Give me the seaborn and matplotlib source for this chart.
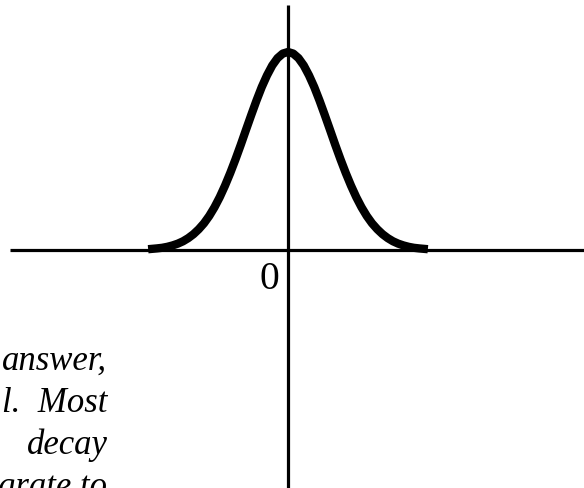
import matplotlib
matplotlib.use("Agg")
import matplotlib.pyplot as plt
import seaborn as sns
import pandas as pd

# Bell curve samples (x in units of the spread, y relative to the peak)
curve_x = [-3.33, -3.125, -3.0, -2.875, -2.75, -2.625, -2.5, -2.375, -2.25,
           -2.125, -2.0, -1.875, -1.75, -1.625, -1.5, -1.375, -1.25, -1.125,
           -1.0, -0.875, -0.75, -0.625, -0.5, -0.375, -0.25, -0.125, 0.0,
           0.125, 0.25, 0.375, 0.5, 0.625, 0.75, 0.875, 1.0, 1.125, 1.25,
           1.375, 1.5, 1.625, 1.75, 1.875, 2.0, 2.125, 2.25, 2.375, 2.5,
           2.625, 2.75, 2.875, 3.0, 3.125, 3.33]
curve_y = [0.004, 0.008, 0.011, 0.016, 0.023, 0.032, 0.044, 0.060, 0.080,
           0.105, 0.135, 0.172, 0.216, 0.267, 0.325, 0.389, 0.458, 0.531,
           0.607, 0.682, 0.755, 0.823, 0.882, 0.932, 0.969, 0.992, 1.000,
           0.992, 0.969, 0.932, 0.882, 0.823, 0.755, 0.682, 0.607, 0.531, 0.458,
           0.389, 0.325, 0.267, 0.216, 0.172, 0.135, 0.105, 0.080, 0.060, 0.044,
           0.032, 0.023, 0.016, 0.011, 0.008, 0.004]

origin_label = "0"
text_lines = ["answer,", "l.  Most", "decay", "grate to"]

sns.set_style("white")
plt.rcParams["font.family"] = ["Liberation Serif", "DejaVu Serif"]
plt.rcParams["text.color"] = "black"

W, H = 584, 489
fig = plt.figure(figsize=(W / 100, H / 100), dpi=100)
ax = fig.add_axes([0, 0, 1, 1])

# pixel geometry of the sketch
x_unit = 42.0      # px per x unit
y_unit = 198.0     # px per y unit
x0_px, y0_px = 288.0, 251.0

# coordinate axes
ax.plot([(10 - x0_px) / x_unit, (W - x0_px) / x_unit], [0, 0],
        color="black", lw=2.3, solid_capstyle="butt", zorder=1)
ax.plot([0, 0], [-(H - y0_px) / y_unit, (y0_px - 6) / y_unit],
        color="black", lw=2.3, solid_capstyle="butt", zorder=1)

df = pd.DataFrame({"x": curve_x, "y": curve_y})
sns.lineplot(data=df, x="x", y="y", ax=ax, color="black", lw=6.0,
             sort=False, zorder=2)
for ln in ax.lines[2:]:
    ln.set_solid_capstyle("butt")
    ln.set_solid_joinstyle("round")

ax.set_xlim(-x0_px / x_unit, (W - x0_px) / x_unit)
ax.set_ylim(-(H - y0_px) / y_unit, y0_px / y_unit)
ax.set_xlabel("")
ax.set_ylabel("")
ax.set_axis_off()

fig.text(269.5 / W, 1 - 289 / H, origin_label, fontsize=28.5,
         color="black", ha="center", va="baseline")

baselines = [370, 412, 454, 496]
for line, b in zip(text_lines, baselines):
    fig.text(107.5 / W, 1 - b / H, line, fontsize=25, style="italic",
             color="black", ha="right", va="baseline")

fig.savefig("out.png", dpi=100)
